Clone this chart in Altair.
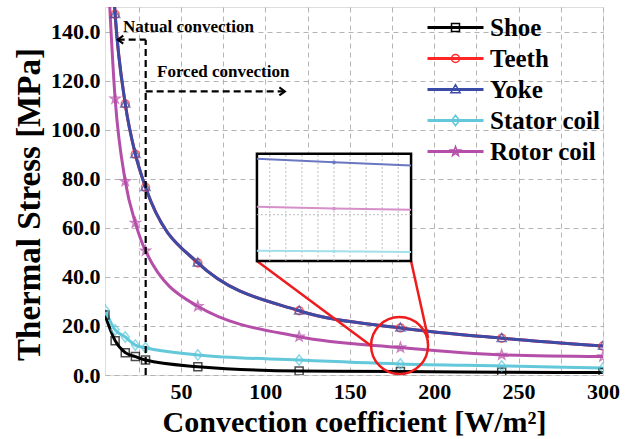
import math
import altair as alt
import pandas as pd

# ---------------- data ----------------
H = [5, 11, 17, 23, 29, 60, 120, 180, 240, 300]
SERIES = ["Shoe", "Teeth", "Yoke", "Stator coil", "Rotor coil"]
COLORS = ["#000000", "#ff2626", "#3a4ca8", "#62c8da", "#b44ea8"]

SHOE = [24.5, 14.0, 9.1, 7.5, 6.1, 3.4, 1.6, 1.4, 1.1, 1.0]
TEETH = [230.0, 147.0, 110.5, 90.0, 76.5, 45.7, 26.2, 19.2, 15.0, 11.8]
YOKE = [230.0, 147.0, 110.5, 90.0, 76.5, 45.7, 26.2, 19.2, 15.0, 11.8]
STATOR = [26.5, 18.4, 15.5, 12.2, 11.1, 8.2, 6.1, 4.5, 3.7, 2.9]
ROTOR = [190.0, 112.6, 79.0, 62.0, 50.6, 28.0, 15.6, 11.2, 8.2, 7.5]
VALUES = [SHOE, TEETH, YOKE, STATOR, ROTOR]

# inset (zoom of the circled region)
INSET_H = [174, 180, 186]
INSET_YOKE = [19.6, 19.0, 18.5]
INSET_ROTOR = [11.8, 11.5, 11.3]
INSET_STATOR = [4.67, 4.55, 4.46]
INSET_GRID_X = [175 + 1.25 * k for k in range(9)]
INSET_GRID_Y = [10.5]
ZOOM_X = [174, 186]
ZOOM_Y = [3.0, 20.4]
BOX_X = [95.0, 186.3]
BOX_Y = [46.5, 90.2]

# annotations
BOUNDARY_H = 29.1
NATURAL_Y = 136.7
NATURAL_TIP = 12.5
FORCED_Y = 115.6
FORCED_TIP = 111.6
CIRCLE_CENTER = (179.5, 12.0)
CONNECT = [(95.0, 46.5, 162.0, 12.2), (186.3, 46.5, 196.4, 15.1)]

FONT = "Liberation Serif"

rows = []
for s, vals in zip(SERIES, VALUES):
    for h, v in zip(H, vals):
        rows.append({"h": h, "v": v, "series": s})
df = pd.DataFrame(rows)


def star_path(ro=1.25, ri=0.5):
    pts = []
    for k in range(10):
        r = ro if k % 2 == 0 else ri
        a = -math.pi / 2 + k * math.pi / 5
        pts.append(f"{r*math.cos(a):.3f},{r*math.sin(a):.3f}")
    return "M" + "L".join(pts) + "Z"


SQUARE = "M-1,-1L1,-1L1,1L-1,1Z"
CIRCLE = "M1,0A1,1,0,1,1,-1,0A1,1,0,1,1,1,0Z"
TRIANGLE = "M0,-1.2L1.15,0.8L-1.15,0.8Z"
DIAMOND = "M0,-1.3L1,0L0,1.3L-1,0Z"
STAR = star_path()
SHAPES = [SQUARE, CIRCLE, TRIANGLE, DIAMOND, STAR]

color_scale = alt.Scale(domain=SERIES, range=COLORS)
xs = alt.Scale(domain=[5, 300], nice=False, zero=False)
ys = alt.Scale(domain=[0, 150], nice=False, zero=False)

x_axis = alt.Axis(
    values=list(range(25, 301, 25)),
    labelExpr="datum.value % 50 == 0 ? datum.label : ''",
    title="Convection coefficient [W/m²]",
    titleFontSize=30, titleFont=FONT, titleFontWeight="bold", titleColor="black",
    titlePadding=5,
    labelFont=FONT, labelFontSize=22, labelFontWeight="bold", labelColor="black",
    labelPadding=6, labelFlush=False, labelOverlap=False,
    ticks=False, domain=False, grid=True,
    gridDash=[5, 4], gridColor="#b4b4b4", gridWidth=1,
)
y_axis = alt.Axis(
    values=list(range(0, 151, 10)),
    labelExpr="datum.value % 20 == 0 ? format(datum.value, '.1f') : ''",
    title="Thermal Stress [MPa]",
    titleFontSize=33, titleFont=FONT, titleFontWeight="bold", titleColor="black",
    titlePadding=4, titleY=197,
    labelFont=FONT, labelFontSize=22, labelFontWeight="bold", labelColor="black",
    labelPadding=5, labelOverlap=False,
    ticks=False, domain=False, grid=True,
    gridDash=[5, 4], gridColor="#b4b4b4", gridWidth=1,
)

X = alt.X("h:Q", scale=xs, axis=x_axis)
Y = alt.Y("v:Q", scale=ys, axis=y_axis)
Xp = alt.X("h:Q", scale=xs)
Yp = alt.Y("v:Q", scale=ys)

lines = alt.Chart(df).mark_line(strokeWidth=3, interpolate="monotone", clip=True).encode(
    x=X, y=Y,
    color=alt.Color("series:N", scale=color_scale, legend=None),
    detail="series:N",
)

points = alt.Chart(df).mark_point(filled=False, size=64, strokeWidth=1.5, clip=True).encode(
    x=Xp, y=Yp,
    color=alt.Color("series:N", scale=color_scale, legend=None),
    shape=alt.Shape("series:N", scale=alt.Scale(domain=SERIES, range=SHAPES), legend=None),
)

# legend symbols: line + marker as custom paths
LINE = "M-7,-0.17L7,-0.17M-7,0.17L7,0.17"
LEG_SHAPES = [LINE + s for s in SHAPES]
leg = dict(
    title=None, orient="none", legendX=338, legendY=8,
    labelFont=FONT, labelFontSize=25, labelFontWeight="bold", labelColor="black",
    symbolSize=64, symbolStrokeWidth=1.5, symbolFillColor="transparent",
    labelOffset=22, rowPadding=5, padding=0,
)
legend_layer = alt.Chart(df).mark_point(filled=False, opacity=0, size=64).encode(
    x=Xp, y=Yp,
    color=alt.Color("series:N", scale=color_scale, legend=alt.Legend(**leg)),
    shape=alt.Shape("series:N", scale=alt.Scale(domain=SERIES, range=LEG_SHAPES),
                    legend=alt.Legend(**leg)),
)

# natural / forced convection annotations
dash_df = pd.DataFrame([
    {"h": BOUNDARY_H, "v": 0.0, "h2": BOUNDARY_H, "v2": NATURAL_Y},
    {"h": NATURAL_TIP, "v": NATURAL_Y, "h2": BOUNDARY_H, "v2": NATURAL_Y},
    {"h": BOUNDARY_H, "v": FORCED_Y, "h2": FORCED_TIP, "v2": FORCED_Y},
])
dashes = alt.Chart(dash_df).mark_rule(color="black", strokeWidth=2.2, strokeDash=[7, 4]).encode(
    x=Xp, y=Yp, x2="h2:Q", y2="v2:Q"
)
arrow_df = pd.DataFrame([
    {"h": NATURAL_TIP, "v": NATURAL_Y, "dir": "left"},
    {"h": FORCED_TIP, "v": FORCED_Y, "dir": "right"},
])
arrows = alt.Chart(arrow_df).mark_point(filled=False, color="black", strokeWidth=2, size=64, opacity=1).encode(
    x=Xp, y=Yp,
    shape=alt.Shape("dir:N", scale=alt.Scale(domain=["left", "right"],
                    range=["M1.4,-1L0,0L1.4,1", "M-1.4,-1L0,0L-1.4,1"]), legend=None),
)
text_df = pd.DataFrame([
    {"h": 15.7, "v": 142.0, "t": "Natual convection"},
    {"h": 35.8, "v": 123.7, "t": "Forced convection"},
])
texts = alt.Chart(text_df).mark_text(align="left", baseline="middle", font=FONT,
                                     fontSize=17, fontWeight="bold", color="black").encode(
    x=Xp, y=Yp, text="t:N"
)

# inset
box_df = pd.DataFrame([{"h": BOX_X[0], "v": BOX_Y[0], "h2": BOX_X[1], "v2": BOX_Y[1]}])
box = alt.Chart(box_df).mark_rect(fill="white", stroke="black", strokeWidth=2.5).encode(
    x=Xp, y=Yp, x2="h2:Q", y2="v2:Q"
)


def mx(v):
    return BOX_X[0] + (v - ZOOM_X[0]) / (ZOOM_X[1] - ZOOM_X[0]) * (BOX_X[1] - BOX_X[0])


def my(v):
    return BOX_Y[0] + (v - ZOOM_Y[0]) / (ZOOM_Y[1] - ZOOM_Y[0]) * (BOX_Y[1] - BOX_Y[0])


grid_rows = [{"h": mx(g), "v": BOX_Y[0], "h2": mx(g), "v2": BOX_Y[1]} for g in INSET_GRID_X]
grid_rows += [{"h": BOX_X[0], "v": my(g), "h2": BOX_X[1], "v2": my(g)} for g in INSET_GRID_Y]
igrid = alt.Chart(pd.DataFrame(grid_rows)).mark_rule(color="#bdbdbd", strokeWidth=1, strokeDash=[2, 2]).encode(
    x=Xp, y=Yp, x2="h2:Q", y2="v2:Q"
)
INSET_SERIES = ["Yoke", "Rotor coil", "Stator coil"]
INSET_COLORS = ["#6a78c2", "#d590c9", "#a3dfea"]
irows = []
for s, vals in zip(INSET_SERIES, [INSET_YOKE, INSET_ROTOR, INSET_STATOR]):
    for h, v in zip(INSET_H, vals):
        irows.append({"h": mx(h), "v": my(v), "s": s, "mid": h == 180})
idf = pd.DataFrame(irows)
iscale = alt.Scale(domain=INSET_SERIES, range=INSET_COLORS)
ilines = alt.Chart(idf).mark_line(strokeWidth=2).encode(
    x=Xp, y=Yp, color=alt.Color("s:N", scale=iscale, legend=None)
)
idots = alt.Chart(idf).transform_filter("datum.mid").mark_point(filled=True, size=14, opacity=1).encode(
    x=Xp, y=Yp, color=alt.Color("s:N", scale=iscale, legend=None)
)

circle_df = pd.DataFrame([{"h": CIRCLE_CENTER[0], "v": CIRCLE_CENTER[1]}])
circle = alt.Chart(circle_df).mark_point(shape="circle", size=3249, filled=False, color="#ee1c1c",
                                         strokeWidth=2.5, opacity=1).encode(x=Xp, y=Yp)
conn_df = pd.DataFrame([{"h": a, "v": b, "h2": c, "v2": d} for a, b, c, d in CONNECT])
conn = alt.Chart(conn_df).mark_rule(color="#ee1c1c", strokeWidth=2.5).encode(
    x=Xp, y=Yp, x2="h2:Q", y2="v2:Q"
)

chart = alt.layer(
    lines, points, dashes, arrows, texts, conn, box, igrid, ilines, idots, circle, legend_layer
).resolve_scale(
    color="independent", shape="independent"
).properties(
    width=498, height=368,
    padding={"left": 105, "top": 7, "right": 30, "bottom": 64},
    autosize=alt.AutoSizeParams(type="none"),
).configure_view(
    stroke="black", strokeWidth=2
).configure(background="white")

chart.save("out.html", embed_options={"renderer": "svg", "actions": False})
